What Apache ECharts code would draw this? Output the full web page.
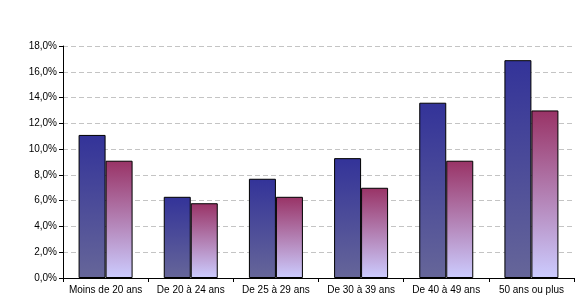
<!DOCTYPE html>
<html><head><meta charset="utf-8">
<script src="https://cdn.jsdelivr.net/npm/echarts@6/dist/echarts.min.js"></script>
<style>html,body{margin:0;padding:0;background:#fff}#c{width:586px;height:300px}</style>
</head><body><div id="c"></div>
<script>
var categories = ["Moins de 20 ans","De 20 à 24 ans","De 25 à 29 ans","De 30 à 39 ans","De 40 à 49 ans","50 ans ou plus"];
var seriesA = [11.1, 6.3, 7.7, 9.3, 13.6, 16.9];
var seriesB = [9.1, 5.8, 6.3, 7.0, 9.1, 13.0];
var chart = echarts.init(document.getElementById('c'), null, {renderer:'canvas'});
function grad(top, bottom){
  return new echarts.graphic.LinearGradient(0,0,0,1,[{offset:0,color:top},{offset:1,color:bottom}]);
}
chart.setOption({
  animation:false,
  grid:{left:63,right:12,top:46,bottom:22},
  xAxis:{type:'category',data:categories,
    axisLine:{lineStyle:{color:'#000',width:1}},
    axisTick:{show:true,length:4,lineStyle:{color:'#000'}},
    axisLabel:{color:'#000',fontFamily:'Liberation Sans, Arial',fontSize:10,margin:7,interval:0}},
  yAxis:{type:'value',min:0,max:18,interval:2,
    axisLine:{show:true,lineStyle:{color:'#000',width:1}},
    axisTick:{show:true,length:4,lineStyle:{color:'#000'}},
    splitLine:{lineStyle:{color:'#c4c4c4',type:[5,3]}},
    axisLabel:{color:'#000',fontFamily:'Liberation Sans, Arial',fontSize:10,margin:6,
      formatter:function(v){return v.toFixed(1).replace('.',',')+'%';}}},
  series:[
    {type:'bar',data:seriesA,barWidth:27,barGap:'0%',
     itemStyle:{color:grad('#333399','#666699'),borderColor:'#000',borderWidth:1}},
    {type:'bar',data:seriesB,barWidth:27,
     itemStyle:{color:grad('#993366','#ccccff'),borderColor:'#000',borderWidth:1}}
  ]
});
</script></body></html>
